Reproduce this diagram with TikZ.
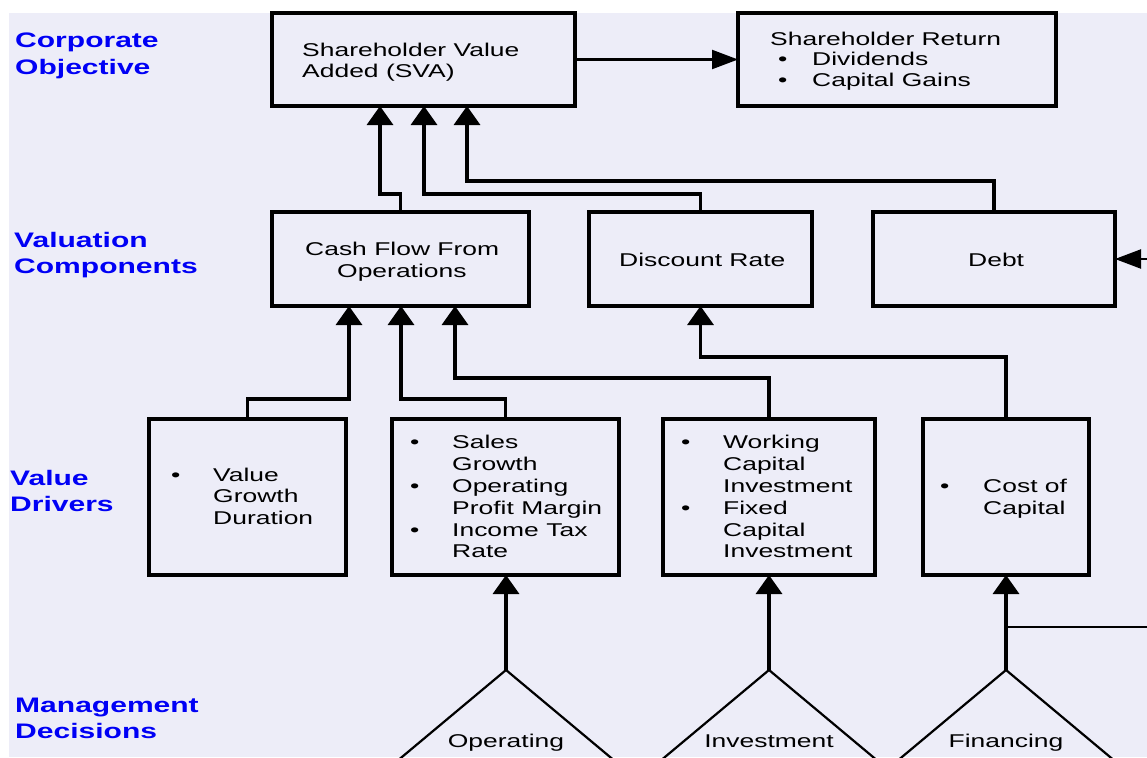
\documentclass[tikz,border=0pt]{standalone}
\usepackage{fontspec}
\setmainfont{Liberation Sans}[FakeStretch=1.43]
\usetikzlibrary{arrows.meta}
\definecolor{paper}{RGB}{237,237,248}
\definecolor{labelblue}{RGB}{0,0,245}
\begin{document}
\begin{tikzpicture}[x=1pt,y=-1pt,
  box/.style={draw, line width=3.3pt, inner sep=0pt, outer sep=0pt, anchor=north west},
  txt/.style={anchor=base west, inner sep=0pt, font=\fontsize{18.5}{22}\selectfont},
  ctxt/.style={anchor=base, inner sep=0pt, font=\fontsize{18.5}{22}\selectfont},
  layer/.style={anchor=base west, inner sep=0pt, text=labelblue, font=\fontsize{21}{26}\selectfont\bfseries},
  link/.style={draw, line width=3.3pt},
  uparrow/.style={link, -{Triangle[length=19pt,width=26pt]}},
  sidearrow/.style={draw, line width=2.2pt, -{Triangle[length=26pt,width=19pt]}},
  thinline/.style={draw, line width=2.2pt},
]
% canvas
\useasboundingbox (0,0) rectangle (1147,757);
\clip (0,0) rectangle (1147,757);
\fill[white] (0,0) rectangle (1147,757);
\fill[paper] (9,13) rectangle (1147,757);

% level labels
\node[layer] (lCorp1) at (15,48) {Corporate};
\node[layer] (lCorp2) at (15,75) {Objective};
\node[layer] (lVal1) at (14,247) {Valuation};
\node[layer] (lVal2) at (14,273) {Components};
\node[layer] (lDrv1) at (10,485) {Value};
\node[layer] (lDrv2) at (10,511) {Drivers};
\node[layer] (lMgt1) at (15,712) {Management};
\node[layer] (lMgt2) at (15,738) {Decisions};

% boxes
\node[box, minimum width=303pt, minimum height=93pt] (sva) at (272,13) {};
\node[box, minimum width=318pt, minimum height=93pt] (sr) at (738,13) {};
\node[box, minimum width=257pt, minimum height=94pt] (cf) at (272,212) {};
\node[box, minimum width=223pt, minimum height=94pt] (dr) at (589,212) {};
\node[box, minimum width=242pt, minimum height=94pt] (debt) at (873,212) {};
\node[box, minimum width=197pt, minimum height=156pt] (vgd) at (149,419) {};
\node[box, minimum width=227pt, minimum height=156pt] (sales) at (392,419) {};
\node[box, minimum width=212pt, minimum height=156pt] (wc) at (663,419) {};
\node[box, minimum width=166pt, minimum height=156pt] (coc) at (923,419) {};

% box texts
\node[txt] (tSva1) at (302,57) {Shareholder Value};
\node[txt] (tSva2) at (302,78) {Added (SVA)};
\node[txt] (tSr1) at (770,46) {Shareholder Return};
\node[txt] (bSr1) at (778,66) {\textbullet};
\node[txt] (tSr2) at (812,66) {Dividends};
\node[txt] (bSr2) at (778,87) {\textbullet};
\node[txt] (tSr3) at (812,87) {Capital Gains};
\node[txt] (tCf1) at (305,255) {Cash Flow From};
\node[txt] (tCf2) at (337,277) {Operations};
\node[txt] (tDr) at (619,266) {Discount Rate};
\node[txt] (tDebt) at (968,266) {Debt};

\node[txt] (bVgd) at (171,481) {\textbullet};
\node[txt] (tVgd1) at (213,481) {Value};
\node[txt] (tVgd2) at (213,502) {Growth};
\node[txt] (tVgd3) at (213,524) {Duration};

\node[txt] (bSal1) at (410,448) {\textbullet};
\node[txt] (tSal1) at (452,448) {Sales};
\node[txt] (tSal2) at (452,470) {Growth};
\node[txt] (bSal2) at (410,492) {\textbullet};
\node[txt] (tSal3) at (452,492) {Operating};
\node[txt] (tSal4) at (452,514) {Profit Margin};
\node[txt] (bSal3) at (410,536) {\textbullet};
\node[txt] (tSal5) at (452,536) {Income Tax};
\node[txt] (tSal6) at (452,557) {Rate};

\node[txt] (bWc1) at (681,448) {\textbullet};
\node[txt] (tWc1) at (723,448) {Working};
\node[txt] (tWc2) at (723,470) {Capital};
\node[txt] (tWc3) at (723,492) {Investment};
\node[txt] (bWc2) at (681,514) {\textbullet};
\node[txt] (tWc4) at (723,514) {Fixed};
\node[txt] (tWc5) at (723,536) {Capital};
\node[txt] (tWc6) at (723,557) {Investment};

\node[txt] (bCoc) at (940,492) {\textbullet};
\node[txt] (tCoc1) at (983,492) {Cost of};
\node[txt] (tCoc2) at (983,514) {Capital};

% corporate objective link
\draw[sidearrow] (sva.east) -- (sr.west);

% valuation components into SVA
\coordinate (j1) at (380,194);
\coordinate (j2) at (424,194);
\coordinate (j3) at (467,181);
\draw[uparrow] (cf.north) |- (j1) -- (j1 |- sva.south);
\draw[uparrow] (dr.north) |- (j2) -- (j2 |- sva.south);
\draw[uparrow] (debt.north) |- (j3) -- (j3 |- sva.south);

% debt input from the right
\coordinate (debtIn) at (1147,259);
\draw[sidearrow] (debtIn) -- (debt.east);

% value drivers into components
\coordinate (j4) at (349,399);
\coordinate (j5) at (401,399);
\coordinate (j6) at (455,378);
\coordinate (j7) at (700.5,357);
\draw[uparrow] (vgd.north) |- (j4) -- (j4 |- cf.south);
\draw[uparrow] (sales.north) |- (j5) -- (j5 |- cf.south);
\draw[uparrow] (wc.north) |- (j6) -- (j6 |- cf.south);
\draw[uparrow] (coc.north) |- (j7) -- (j7 |- dr.south);

% management decisions
\coordinate (opApex) at (506,670);
\coordinate (invApex) at (769,670);
\coordinate (finApex) at (1006,670);
\foreach \apex in {opApex,invApex,finApex}
  \draw[thinline, line join=miter] ([shift={(-122,102)}]\apex) -- (\apex) -- ([shift={(122,102)}]\apex);
\node[ctxt] (tOp) at (506,747) {Operating};
\node[ctxt] (tInv) at (769,747) {Investment};
\node[ctxt] (tFin) at (1006,747) {Financing};

\draw[uparrow] (opApex) -- (opApex |- sales.south);
\draw[uparrow] (invApex) -- (invApex |- wc.south);
\draw[uparrow] (finApex) -- (finApex |- coc.south);

\coordinate (finJ) at (1006,627);
\coordinate (finOut) at (1147,627);
\draw[thinline] (finJ) -- (finOut);
\end{tikzpicture}
\end{document}
